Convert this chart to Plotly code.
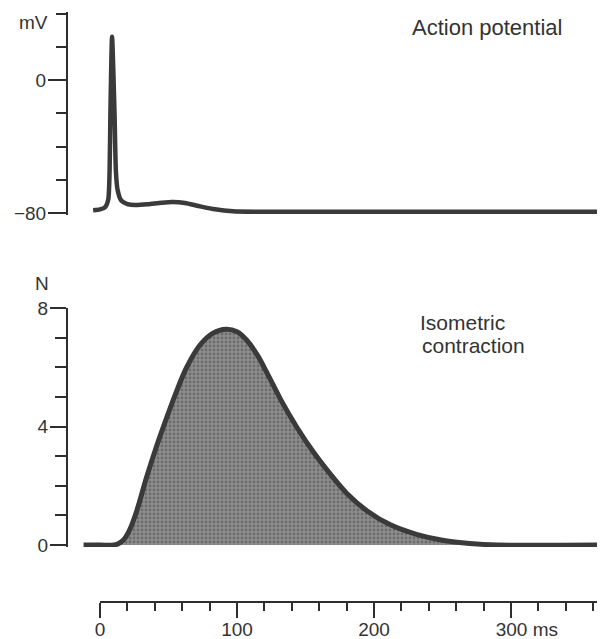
import plotly.graph_objects as go

# ---- data ----
ap_time_ms = [-5, 0, 3.6, 6.0, 7.0, 7.6, 8.8, 10.6, 11.6, 12.8, 15.5, 20, 26, 35, 45, 53, 62, 72, 84, 97, 115, 369]
ap_mv = [-78.3, -77.8, -76.6, -72, -55, -20, 26, -20, -55, -66, -72.5, -74.6, -75.2, -74.7, -73.8, -73.4, -74, -75.8, -77.8, -79, -79.3, -79.3]

force_time_ms = [-12, 0, 10, 14, 18, 22, 26.8, 34.1, 41.4, 48.7, 56, 63.3, 73, 82.5, 92, 100, 107, 115, 122, 132, 144,
                 156, 168, 180, 195, 212, 231, 251, 270, 290, 369]
force_n = [0, 0, 0, 0.06, 0.22, 0.55, 1.15, 2.3, 3.35, 4.3, 5.2, 6.0, 6.75, 7.15, 7.28, 7.2, 6.92, 6.4, 5.8, 4.9, 3.95,
           3.12, 2.4, 1.75, 1.15, 0.68, 0.36, 0.15, 0.05, 0, 0]

mv_major_ticks = [-80, 0]
n_major_ticks = [0, 4, 8]
time_tick_vals = [0, 100, 200, 300]
NBSP = "\u00a0"
time_tick_text = ["0", "100", "200", NBSP * 6 + "300 ms"]

INK = "#3a3a3a"
AXC = "#2e2e2e"
FONT = "Liberation Sans, Arial, Helvetica, sans-serif"

OFF = 8  # page body margin in the browser
W, H = 605 - OFF, 639 - OFF
L = 68 - OFF
PW = W - L


def px_x(px):
    return (px - OFF - L) / PW


def px_y(py):
    return 1 - (py - OFF) / H


fig = go.Figure()

fig.add_trace(go.Scatter(
    x=ap_time_ms, y=ap_mv, mode="lines",
    line=dict(color=INK, width=4.5, shape="spline", smoothing=0.6),
    xaxis="x", yaxis="y", hoverinfo="skip"))

fig.add_trace(go.Scatter(
    x=force_time_ms, y=force_n, mode="lines", fill="tozeroy",
    fillcolor="#878787",
    fillpattern=dict(shape=".", bgcolor="#8e8e8e", fgcolor="#4a4a4a", size=4, solidity=0.4),
    line=dict(color=INK, width=5, shape="spline", smoothing=1.0),
    xaxis="x2", yaxis="y2", hoverinfo="skip"))

# invisible carrier for the separate time axis
fig.add_trace(go.Scatter(x=[], y=[], xaxis="x3", yaxis="y3", hoverinfo="skip"))

PXMS = 1.37
xr = [(68 - 100) / PXMS, (605 - 100) / PXMS]

tickfont = dict(family=FONT, size=19, color="#333")

fig.update_layout(
    width=W, height=H,
    margin=dict(l=L, r=0, t=0, b=0, autoexpand=False),
    paper_bgcolor="white", plot_bgcolor="white",
    showlegend=False,
    xaxis=dict(domain=[0, 1], range=xr, visible=False, anchor="y", automargin=False),
    xaxis2=dict(domain=[0, 1], range=xr, visible=False, anchor="y2", automargin=False),
    xaxis3=dict(domain=[px_x(100), 1], range=[0, xr[1]], anchor="free", position=px_y(602),
                automargin=False, ticklabelstandoff=-5,
                showline=True, linecolor=AXC, linewidth=2, ticks="outside", ticklen=15,
                tickwidth=2, tickcolor=AXC, tickvals=time_tick_vals, ticktext=time_tick_text,
                tickfont=tickfont, showgrid=False, zeroline=False,
                minor=dict(dtick=20, tick0=0, ticklen=8, tickwidth=2, tickcolor=AXC, ticks="outside", showgrid=False)),
    yaxis=dict(domain=[px_y(215), px_y(12)], range=[-80 - 2 / 33.25 * 20, -80 + 201 / 33.25 * 20],
               anchor="x", automargin=False, showline=True, linecolor=AXC, linewidth=2, ticks="outside", ticklen=18,
               tickwidth=2, tickcolor=AXC, tickvals=mv_major_ticks, tickfont=tickfont, ticklabelstandoff=-2,
               showgrid=False, zeroline=False,
               minor=dict(dtick=20, tick0=0, ticklen=10, tickwidth=2, tickcolor=AXC, ticks="outside", showgrid=False)),
    yaxis2=dict(domain=[px_y(547), px_y(308)], range=[-2 / 29.625, 8],
                anchor="x2", automargin=False, showline=True, linecolor=AXC, linewidth=2, ticks="outside", ticklen=16,
                tickwidth=2, tickcolor=AXC, tickvals=n_major_ticks, tickfont=tickfont, ticklabelstandoff=-2,
                showgrid=False, zeroline=False,
                minor=dict(dtick=1, tick0=0, ticklen=11, tickwidth=2, tickcolor=AXC, ticks="outside", showgrid=False)),
    yaxis3=dict(domain=[0, 0.02], visible=False, anchor="x3"),
)

ann_font = dict(family=FONT, size=21, color="#333")
small_font = dict(family=FONT, size=19, color="#333")
annotations = [
    dict(text="Action potential", x=px_x(410), y=px_y(28), xanchor="left", yanchor="middle",
         font=dict(family=FONT, size=22, color="#333")),
    dict(text="Isometric", x=px_x(418), y=px_y(322), xanchor="left", yanchor="middle", font=ann_font),
    dict(text="contraction", x=px_x(420), y=px_y(345), xanchor="left", yanchor="middle", font=ann_font),
    dict(text="mV", x=px_x(33), y=px_y(22), xanchor="center", yanchor="middle", font=small_font),
    dict(text="N", x=px_x(42), y=px_y(283), xanchor="center", yanchor="middle", font=small_font),
]
for a in annotations:
    a.update(xref="paper", yref="paper", showarrow=False)
fig.update_layout(annotations=annotations)

fig.write_html("out.html")
